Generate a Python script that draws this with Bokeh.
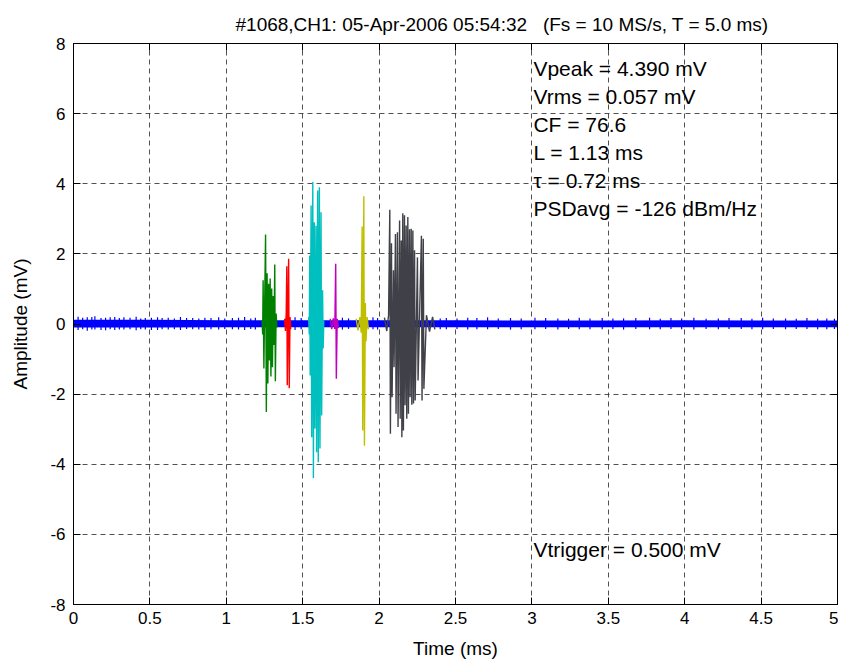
from bokeh.plotting import figure
from bokeh.models import Label, LinearAxis, FixedTicker, Range1d
from bokeh.embed import file_html
from bokeh.resources import INLINE

# ---------------- data ----------------
x_ticks = [0, 0.5, 1, 1.5, 2, 2.5, 3, 3.5, 4, 4.5, 5]
x_tick_labels = ["0", "0.5", "1", "1.5", "2", "2.5", "3", "3.5", "4", "4.5", "5"]
y_ticks = [-8, -6, -4, -2, 0, 2, 4, 6, 8]
y_tick_labels = ["-8", "-6", "-4", "-2", "0", "2", "4", "6", "8"]

# baseline noise envelope of the blue trace (mV), every 0.5 ms
base_t = [0.0, 0.5, 1.0, 1.5, 2.0, 2.5, 3.0, 3.5, 4.0, 4.5, 5.0]
base_hi = [0.12, 0.12, 0.11, 0.11, 0.11, 0.11, 0.10, 0.10, 0.11, 0.10, 0.10]
base_lo = [-0.10, -0.10, -0.09, -0.09, -0.09, -0.09, -0.09, -0.09, -0.09, -0.09, -0.09]

# isolated noise spikes of the blue trace (time ms, +peak, -peak)
spike_t = [0.03, 0.06, 0.09, 0.12, 0.14, 0.18, 0.21, 0.24, 0.27, 0.30, 0.33, 0.37,
           0.41, 0.44, 0.47, 0.51, 0.55, 0.58, 0.62, 0.66, 0.70, 0.74, 0.78, 0.82,
           0.86, 0.90, 0.95, 0.99, 1.04, 1.08, 1.12, 1.16, 1.19, 1.45, 1.49, 1.76,
           1.80, 1.96, 1.99, 2.40, 2.44, 2.51, 2.58, 2.64, 2.71, 2.78, 2.86, 2.93,
           3.02, 3.09, 3.17, 3.24, 3.31, 3.38, 3.46, 3.53, 3.60, 3.68, 3.77, 3.84,
           3.91, 3.98, 4.06, 4.14, 4.22, 4.29, 4.37, 4.44, 4.51, 4.58, 4.66, 4.73,
           4.80, 4.87, 4.93, 4.98]
spike_hi = [0.21, 0.18, 0.19, 0.20, 0.22, 0.17, 0.18, 0.19, 0.20, 0.17, 0.19, 0.18,
            0.21, 0.16, 0.17, 0.18, 0.19, 0.17, 0.18, 0.16, 0.20, 0.17, 0.17, 0.16,
            0.18, 0.17, 0.19, 0.16, 0.17, 0.18, 0.20, 0.16, 0.18, 0.19, 0.17, 0.18,
            0.16, 0.19, 0.17, 0.16, 0.17, 0.16, 0.18, 0.17, 0.19, 0.16, 0.17, 0.16,
            0.18, 0.17, 0.16, 0.15, 0.18, 0.16, 0.17, 0.16, 0.16, 0.17, 0.18, 0.15,
            0.17, 0.16, 0.18, 0.15, 0.16, 0.17, 0.17, 0.15, 0.18, 0.16, 0.16, 0.15,
            0.17, 0.15, 0.16, 0.15]
spike_lo = [-0.17, -0.15, -0.19, -0.16, -0.16, -0.17, -0.18, -0.15, -0.17, -0.16, -0.16, -0.15,
            -0.18, -0.15, -0.16, -0.17, -0.17, -0.15, -0.16, -0.15, -0.17, -0.14, -0.15, -0.16,
            -0.17, -0.15, -0.16, -0.14, -0.15, -0.16, -0.17, -0.14, -0.16, -0.17, -0.15, -0.16,
            -0.14, -0.15, -0.16, -0.15, -0.15, -0.14, -0.16, -0.15, -0.15, -0.14, -0.16, -0.15,
            -0.15, -0.14, -0.16, -0.14, -0.15, -0.15, -0.15, -0.14, -0.16, -0.14, -0.15, -0.15,
            -0.14, -0.15, -0.16, -0.14, -0.15, -0.14, -0.14, -0.15, -0.15, -0.14, -0.15, -0.14,
            -0.14, -0.15, -0.15, -0.14]

# pulse segments: time (ms) and amplitude (mV) of successive peaks
green_t = [1.234, 1.238, 1.241, 1.246, 1.252, 1.257, 1.262, 1.267, 1.272, 1.277, 1.282,
           1.287, 1.292, 1.297, 1.302, 1.307, 1.312, 1.317, 1.321, 1.326, 1.331]
green_v = [0.1, -0.3, 1.25, -1.27, 0.9, 2.55, -2.51, 1.45, -1.7, 1.15, -1.04,
           1.3, -1.5, 1.01, -1.23, 0.8, -0.6, 1.70, -1.63, 0.3, -0.1]

red_t = [1.382, 1.387, 1.392, 1.396, 1.399, 1.404, 1.408, 1.412, 1.417, 1.422]
red_v = [0.15, -0.2, 0.3, 1.65, -1.75, 0.4, 1.86, -1.83, 0.2, -0.15]

cyan_t = [1.539, 1.543, 1.546, 1.549, 1.555, 1.559, 1.566, 1.570, 1.576, 1.580, 1.587,
          1.591, 1.598, 1.602, 1.609, 1.613, 1.620, 1.624, 1.630, 1.634, 1.638]
cyan_v = [0.2, -0.3, 1.95, -1.47, 3.38, -3.23, 4.05, -4.39, 2.9, -2.98, 2.8,
          -3.66, 3.81, -3.94, 3.9, -3.55, 3.19, -2.61, 0.96, -0.7, 0.1]

magenta_t = [1.680, 1.690, 1.700, 1.710, 1.716, 1.720, 1.726, 1.734]
magenta_v = [0.15, -0.15, 0.16, -0.14, 1.72, -1.56, 0.15, -0.12]

yellow_t = [1.850, 1.862, 1.874, 1.883, 1.889, 1.893, 1.900, 1.904, 1.910, 1.914, 1.922, 1.930]
yellow_v = [0.15, -0.18, 0.2, -0.25, 2.78, -3.04, 3.64, -3.47, 0.6, -0.5, 0.2, -0.15]

dark_t = [2.035, 2.050, 2.062, 2.070, 2.074, 2.081, 2.085, 2.094, 2.098, 2.107, 2.111,
          2.120, 2.124, 2.134, 2.138, 2.145, 2.149, 2.155, 2.159, 2.166, 2.170, 2.177,
          2.181, 2.188, 2.192, 2.199, 2.203, 2.210, 2.214, 2.221, 2.225, 2.232, 2.236,
          2.251, 2.255, 2.277, 2.281, 2.289, 2.293, 2.310, 2.330, 2.350, 2.365]
dark_v = [0.18, -0.2, 0.25, 3.26, -3.13, 2.3, -2.09, 1.53, -1.23, 2.57, -2.56,
          2.62, -2.94, 2.95, -2.7, 2.38, -3.23, 3.16, -3.04, 3.1, -2.32, 2.81,
          -2.7, 3.05, -2.56, 2.7, -2.09, 2.72, -2.3, 2.67, -2.27, 2.1, -2.18,
          1.9, -1.61, 2.52, -2.18, 2.43, -1.85, 0.25, -0.22, 0.2, -0.15]

segments = [
    (green_t, green_v, "#008000"),
    (red_t, red_v, "#FF0000"),
    (cyan_t, cyan_v, "#00BFBF"),
    (magenta_t, magenta_v, "#BF00BF"),
    (yellow_t, yellow_v, "#BFBF00"),
    (dark_t, dark_v, "#404048"),
]

title_text = "#1068,CH1: 05-Apr-2006 05:54:32\u00a0\u00a0\u00a0(Fs = 10 MS/s, T = 5.0 ms)"
stats = ["Vpeak = 4.390 mV", "Vrms = 0.057 mV", "CF = 76.6", "L = 1.13 ms",
         "\u03c4 = 0.72 ms", "PSDavg = -126 dBm/Hz"]
stats_y = [7.29, 6.49, 5.69, 4.89, 4.09, 3.29]
trigger_text = "Vtrigger = 0.500 mV"
trigger_y = -6.43
text_x = 3.01

FONT = "Liberation Sans"

# ---------------- figure ----------------
p = figure(width=838, height=661, output_backend="svg", toolbar_location=None,
           x_range=Range1d(0, 5), y_range=Range1d(-8, 8),
           min_border_left=73, min_border_right=1, min_border_top=43, min_border_bottom=54)
p.title.text = title_text
p.title.align = "left"
p.title.text_font = FONT
p.title.text_font_size = "19px"
p.title.text_font_style = "normal"
p.title.text_color = "black"
p.title.offset = 162
p.title.standoff = 17
p.outline_line_color = "black"
p.outline_line_alpha = 1.0
p.background_fill_color = "white"
p.border_fill_color = "white"

for ax in (p.xaxis[0], p.yaxis[0]):
    ax.major_tick_in = 7
    ax.major_tick_out = 0
    ax.minor_tick_line_color = None
    ax.axis_line_color = "black"
    ax.major_tick_line_color = "black"
    ax.major_label_text_font = FONT
    ax.major_label_text_font_size = "17px"
    ax.major_label_text_color = "black"
    ax.axis_label_text_font = FONT
    ax.axis_label_text_font_size = "19px"
    ax.axis_label_text_font_style = "normal"
    ax.axis_label_text_color = "black"

p.xaxis.ticker = FixedTicker(ticks=x_ticks)
p.xaxis.major_label_overrides = dict(zip(x_ticks, x_tick_labels))
p.yaxis.ticker = FixedTicker(ticks=y_ticks)
p.yaxis.major_label_overrides = dict(zip(y_ticks, y_tick_labels))
p.xaxis.axis_label = "Time (ms)"
p.yaxis.axis_label = "Amplitude (mV)"
p.xaxis.major_label_standoff = 7
p.yaxis.major_label_standoff = 8
p.xaxis.axis_label_standoff = 11
p.yaxis.axis_label_standoff = 16

for loc, tk in (("right", y_ticks), ("above", x_ticks)):
    ax = LinearAxis(ticker=FixedTicker(ticks=tk), major_tick_in=7, major_tick_out=0,
                    minor_tick_line_color=None, major_label_text_font_size="0px",
                    major_label_standoff=0, axis_line_color="black",
                    major_tick_line_color="black")
    ax.major_label_overrides = {t: "" for t in tk}
    p.add_layout(ax, loc)

p.xgrid.ticker = FixedTicker(ticks=x_ticks)
p.ygrid.ticker = FixedTicker(ticks=y_ticks)
p.grid.grid_line_color = "#333333"
p.grid.grid_line_alpha = 0.85
p.grid.grid_line_dash = "5 4"
p.grid.grid_line_width = 1

# blue trace
p.varea(x=base_t, y1=base_lo, y2=base_hi, fill_color="#0000FF")
p.segment(x0=spike_t, y0=spike_lo, x1=spike_t, y1=spike_hi, line_color="#0000FF", line_width=1.2)

# pulse segments
for t, v, c in segments:
    p.line(t, v, line_color=c, line_width=1.4)

for s, y in zip(stats, stats_y):
    p.add_layout(Label(x=text_x, y=y, text=s, text_font=FONT, text_font_size="21px",
                       text_baseline="middle", text_color="black"))
p.add_layout(Label(x=text_x, y=trigger_y, text=trigger_text, text_font=FONT,
                   text_font_size="21px", text_baseline="middle", text_color="black"))

open("out.html", "w").write(file_html(p, INLINE))
